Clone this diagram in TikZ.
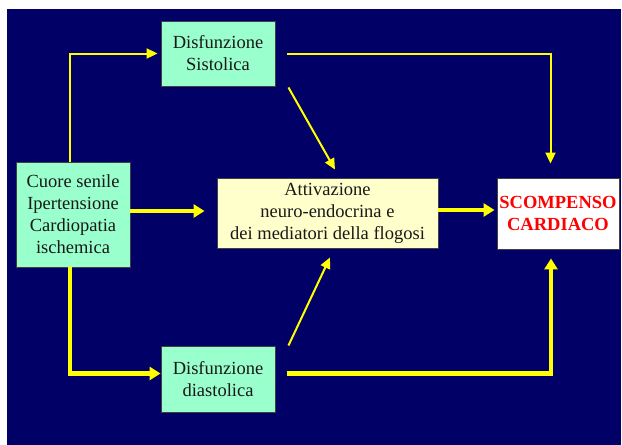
\documentclass[tikz,border=0pt]{standalone}
\usepackage{fontspec}
\setmainfont{Liberation Serif}
\newfontfamily\timesfont{Liberation Serif}
\usetikzlibrary{arrows.meta,calc}
\definecolor{navybg}{RGB}{0,0,102}
\definecolor{mint}{RGB}{153,255,204}
\definecolor{cream}{RGB}{255,255,204}
\definecolor{ylw}{RGB}{255,255,0}
\definecolor{redtxt}{RGB}{255,0,0}
\tikzset{
  box/.style={draw=black!75, line width=0.9pt, align=center, inner sep=0pt,
    font=\timesfont\fontsize{18.5}{22}\selectfont, text=black!90},
  greenbox/.style={box, fill=mint},
  thinarrow/.style={draw=ylw, line width=2pt, -{Triangle[length=11pt,width=10pt]}},
  thickarrow/.style={draw=ylw, line width=4.6pt, -{Triangle[length=11pt,width=13pt]}},
}
\begin{document}
\begin{tikzpicture}[x=1pt,y=-1pt]
\useasboundingbox (0,0) rectangle (622,445);
\fill[white] (0,0) rectangle (622,445);
\fill[navybg] (7,9) rectangle (621,445);

\node[greenbox, minimum width=114pt, minimum height=65pt] (sis) at (218,53.5) {Disfunzione\\Sistolica};
\node[greenbox, minimum width=114pt, minimum height=105pt] (cuore) at (73,214.5) {Cuore senile\\Ipertensione\\Cardiopatia\\ischemica};
\node[box, fill=cream, minimum width=221pt, minimum height=70pt] (attiv) at (327.5,213) {Attivazione\\neuro-endocrina e\\dei mediatori della flogosi};
\node[box, fill=white, minimum width=122pt, minimum height=71pt, text=redtxt, font=\timesfont\fontsize{18.5}{22}\selectfont\bfseries] (scomp) at (558,213.5) {SCOMPENSO\\CARDIACO};
\node[greenbox, minimum width=114pt, minimum height=66pt] (dia) at (218,379) {Disfunzione\\diastolica};

% thin arrows
\draw[thinarrow, shorten >=3pt] ([xshift=-3pt]cuore.north) |- (sis.west);
\draw[thinarrow, shorten <=12pt, shorten >=14pt] (sis.east) -| ([xshift=-7.5pt]scomp.north);
\draw[thinarrow] ([xshift=13pt,yshift=-1pt]sis.south east) -- ([xshift=7.5pt,yshift=8pt]attiv.north);
\draw[thinarrow] ([xshift=13pt]dia.north east) -- ([xshift=2.5pt,yshift=-9pt]attiv.south);

% thick arrows
\draw[thickarrow, shorten >=12pt] ([yshift=3.5pt]cuore.east) -- ([yshift=3.5pt]cuore.east -| attiv.west);
\draw[thickarrow, shorten >=2pt] ([yshift=3pt]attiv.east) -- ([yshift=3pt]attiv.east -| scomp.west);
\draw[thickarrow, shorten >=0pt] ([xshift=-3pt]cuore.south) |- ([yshift=5.5pt]dia.west);
\draw[thickarrow, shorten <=12pt, shorten >=9pt] ([yshift=5.5pt]dia.east) -| ([xshift=-7pt]scomp.south);
\end{tikzpicture}
\end{document}
